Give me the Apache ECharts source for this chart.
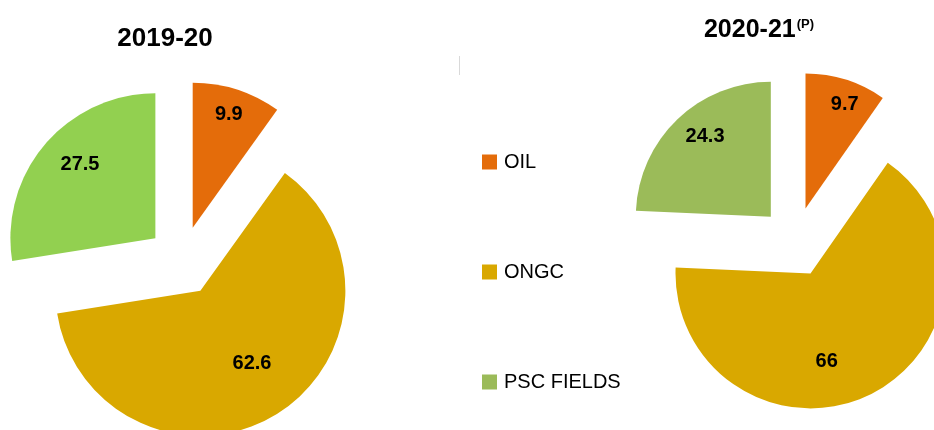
<!DOCTYPE html>
<html>
<head>
<meta charset="utf-8">
<script src="https://cdn.jsdelivr.net/npm/echarts@6/dist/echarts.min.js"></script>
<style>
  html, body { margin: 0; padding: 0; background: #fff; }
  #main { width: 934px; height: 430px; }
</style>
</head>
<body>
<div id="main"></div>
<script>
// 数据
var categories = ['OIL', 'ONGC', 'PSC FIELDS'];
var values2019 = [9.9, 62.6, 27.5];
var values2020 = [9.7, 66, 24.3];
var colors2019 = ['#E46C0A', '#D9A800', '#92D050'];
var colors2020 = ['#E46C0A', '#D9A800', '#9BBB59'];

// 标签微调（像素）
var labelShift = [
  [[13, -41], [12, 8], [-18, -25]],
  [[18, -37], [-15, 25], [-17, -29]]
];

var font = '"Liberation Sans", Arial, sans-serif';

function pieData(values, colors) {
  return values.map(function (v, i) {
    return { name: categories[i], value: v, selected: true, itemStyle: { color: colors[i] } };
  });
}

function pieSeries(idx, values, colors, center, radius) {
  return {
    type: 'pie',
    center: center,
    radius: radius,
    startAngle: 90,
    clockwise: true,
    selectedMode: 'multiple',
    selectedOffset: 35,
    animation: false,
    label: {
      show: true,
      position: 'inside',
      formatter: '{c}',
      color: '#000',
      fontSize: 20,
      fontWeight: 'bold',
      fontFamily: font
    },
    labelLine: { show: false },
    labelLayout: function (params) {
      var s = labelShift[idx][params.dataIndex];
      return { dx: s[0], dy: s[1] };
    },
    emphasis: { scale: false },
    select: { itemStyle: { borderWidth: 0 } },
    data: pieData(values, colors)
  };
}

var chart = echarts.init(document.getElementById('main'));
chart.setOption({
  backgroundColor: '#fff',
  animation: false,
  title: [
    {
      text: '2019-20',
      left: 160,
      top: 21,
      textAlign: 'center',
      textStyle: { fontSize: 26, fontWeight: 'bold', color: '#000', fontFamily: font }
    },
    {
      text: '2020-21{sup|(P)}',
      left: 754,
      top: 13,
      textAlign: 'center',
      textStyle: {
        fontSize: 25, fontWeight: 'bold', color: '#000', fontFamily: font,
        rich: {
          sup: { fontSize: 13, fontWeight: 'bold', color: '#000', fontFamily: font, verticalAlign: 'top', padding: [0, 0, 8, 1] }
        }
      }
    }
  ],
  legend: {
    orient: 'vertical',
    left: 482,
    top: 152,
    padding: 0,
    icon: 'rect',
    itemWidth: 15,
    itemHeight: 15,
    itemGap: 90,
    textStyle: { fontSize: 20, lineHeight: 20, color: '#000', fontFamily: font, padding: [0, 0, 0, 2] },
    data: categories.map(function (c, i) {
      return { name: c, itemStyle: { color: colors2020[i] } };
    })
  },
  graphic: [
    { type: 'line', shape: { x1: 459.5, y1: 56, x2: 459.5, y2: 75 }, style: { stroke: '#d9d9d9', lineWidth: 1 } }
  ],
  series: [
    pieSeries(0, values2019, colors2019, [182, 261], 145),
    pieSeries(1, values2020, colors2020, [795, 242], 135)
  ]
});
</script>
</body>
</html>
